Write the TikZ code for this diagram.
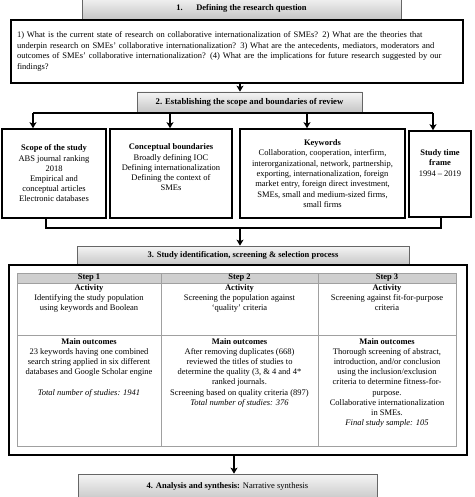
\documentclass[tikz,border=0pt]{standalone}
\usepackage{fontspec}
\setmainfont{Liberation Serif}
\usetikzlibrary{arrows.meta}
\definecolor{tgray}{HTML}{A0A0A0}
\definecolor{thead}{HTML}{CFCFCF}
\tikzset{
  base/.style={font=\fontsize{8.5}{10.2}\selectfont},
  hdr/.style={base, draw=black!60, line width=0.7pt, top color=gray!8, bottom color=gray!45, inner sep=0pt, align=center},
  box/.style={base, draw=black, line width=1.6pt, inner sep=0pt, align=center},
  conn/.style={line width=1.4pt, black},
  arr/.style={line width=1.5pt, black, -{Stealth[length=6pt,width=7pt,inset=1.5pt]}},
  cell/.style={base, align=center, inner sep=0pt, anchor=north},
  grid/.style={draw=tgray, line width=0.8pt}
}
\begin{document}
\begin{tikzpicture}[x=1pt,y=-1pt]
\useasboundingbox (0,0) rectangle (474,497);
\clip (0,0) rectangle (474,497);
\fill[white] (0,0) rectangle (474,497);

% step 1
\node[hdr, minimum width=319pt, minimum height=22pt] (h1) at (241.5,8) {\raisebox{-2pt}{\textbf{1.\hspace{1.6em}Defining the research question}}};
\node[box, minimum width=452pt, minimum height=63pt, text width=440pt, align=left, font=\fontsize{8.5}{10.8}\selectfont] (q) at (237,51.5) {1) What is the current state of research on collaborative internationalization of SMEs? 2) What are the theories that\\underpin research on SMEs’ collaborative internationalization? 3) What are the antecedents, mediators, moderators and\\outcomes of SMEs’ collaborative internationalization? (4) What are the implications for future research suggested by our\\findings?};

% step 2
\node[hdr, minimum width=225pt, minimum height=20pt, font=\fontsize{8.7}{10.2}\selectfont] (h2) at (249.5,102) {\textbf{2. Establishing the scope and boundaries of review}};
\draw[arr] (q.south -| 240,0) -- (h2.north -| 240,0);

\node[box, minimum width=104pt, minimum height=89pt] (A) at (54,173.5) {\textbf{Scope of the study}\\ABS journal ranking\\2018\\Empirical and\\conceptual articles\\Electronic databases};
\node[box, minimum width=122pt, minimum height=89pt] (B) at (171,173.5) {\textbf{Conceptual boundaries}\\Broadly defining IOC\\Defining internationalization\\Defining the context of\\SMEs\\[2pt]~};
\node[box, minimum width=165pt, minimum height=89pt, font=\fontsize{8.5}{10.3}\selectfont] (C) at (322.5,173.5) {\textbf{Keywords}\\Collaboration, cooperation, interfirm,\\interorganizational, network, partnership,\\exporting, internationalization, foreign\\market entry, foreign direct investment,\\SMEs, small and medium-sized firms,\\small firms};
\node[box, minimum width=62pt, minimum height=86pt] (D) at (440,174) {\textbf{Study time}\\\textbf{frame}\\1994 – 2019\\[12pt]~};

\coordinate (ba) at (33,113);
\coordinate (bb) at (170,113);
\coordinate (bc) at (307,113);
\coordinate (bd) at (433,113);
\draw[conn] (ba) -- (bd);
\draw[arr] (ba) -- (ba |- A.north);
\draw[arr] (bb) -- (bb |- B.north);
\draw[arr] (bc) -- (bc |- C.north);
\draw[arr] (bd) -- (bd |- D.north);

% join below
\coordinate (cl) at (46,228);
\coordinate (cm) at (240,228);
\coordinate (cr) at (441,228);
\draw[conn] (cl |- A.south) -- (cl) -- (cr) -- (cr |- D.south);

% step 3
\node[hdr, minimum width=332pt, minimum height=19pt] (h3) at (243,255.5) {\textbf{3. Study identification, screening \& selection process}};
\draw[arr] (cm) -- (cm |- h3.north);
\node[box, minimum width=458pt, minimum height=190pt] (big) at (238,360) {};

% table
\fill[thead] (17,273) rectangle (456,283);
\draw[grid] (17,273) rectangle (456,446);
\draw[grid] (17,283) -- (456,283);
\draw[grid] (17,335) -- (456,335);
\draw[grid] (161,273) -- (161,446);
\draw[grid] (318,273) -- (318,446);

\node[base] (s1) at (89,277.8) {\textbf{Step 1}};
\node[base] (s2) at (239.5,277.8) {\textbf{Step 2}};
\node[base] (s3) at (387,277.8) {\textbf{Step 3}};

\node[cell] (a1) at (89,284) {\textbf{Activity}\\Identifying the study population\\using keywords and Boolean};
\node[cell] (a2) at (239.5,284) {\textbf{Activity}\\Screening the population against\\‘quality’ criteria};
\node[cell] (a3) at (387,284) {\textbf{Activity}\\Screening against fit-for-purpose\\criteria};

\node[cell] (o1) at (89,338) {\textbf{Main outcomes}\\23 keywords having one combined\\search string applied in six different\\databases and Google Scholar engine\\~\\\textit{Total number of studies: 1941}};
\node[cell] (o2) at (239.5,338) {\textbf{Main outcomes}\\After removing duplicates (668)\\reviewed the titles of studies to\\determine the quality (3, \& 4 and 4*\\ranked journals.\\Screening based on quality criteria (897)\\\textit{Total number of studies: 376}};
\node[cell] (o3) at (387,338) {\textbf{Main outcomes}\\Thorough screening of abstract,\\introduction, and/or conclusion\\using the inclusion/exclusion\\criteria to determine fitness-for-\\purpose.\\Collaborative internationalization\\in SMEs.\\\textit{Final study sample: 105}};

% step 4
\node[hdr, minimum width=299pt, minimum height=27pt] (h4) at (227.5,487.5) {\raisebox{4pt}{\textbf{4. Analysis and synthesis:} Narrative synthesis}};
\draw[arr] (big.south -| 234,0) -- (h4.north -| 234,0);
\end{tikzpicture}
\end{document}
